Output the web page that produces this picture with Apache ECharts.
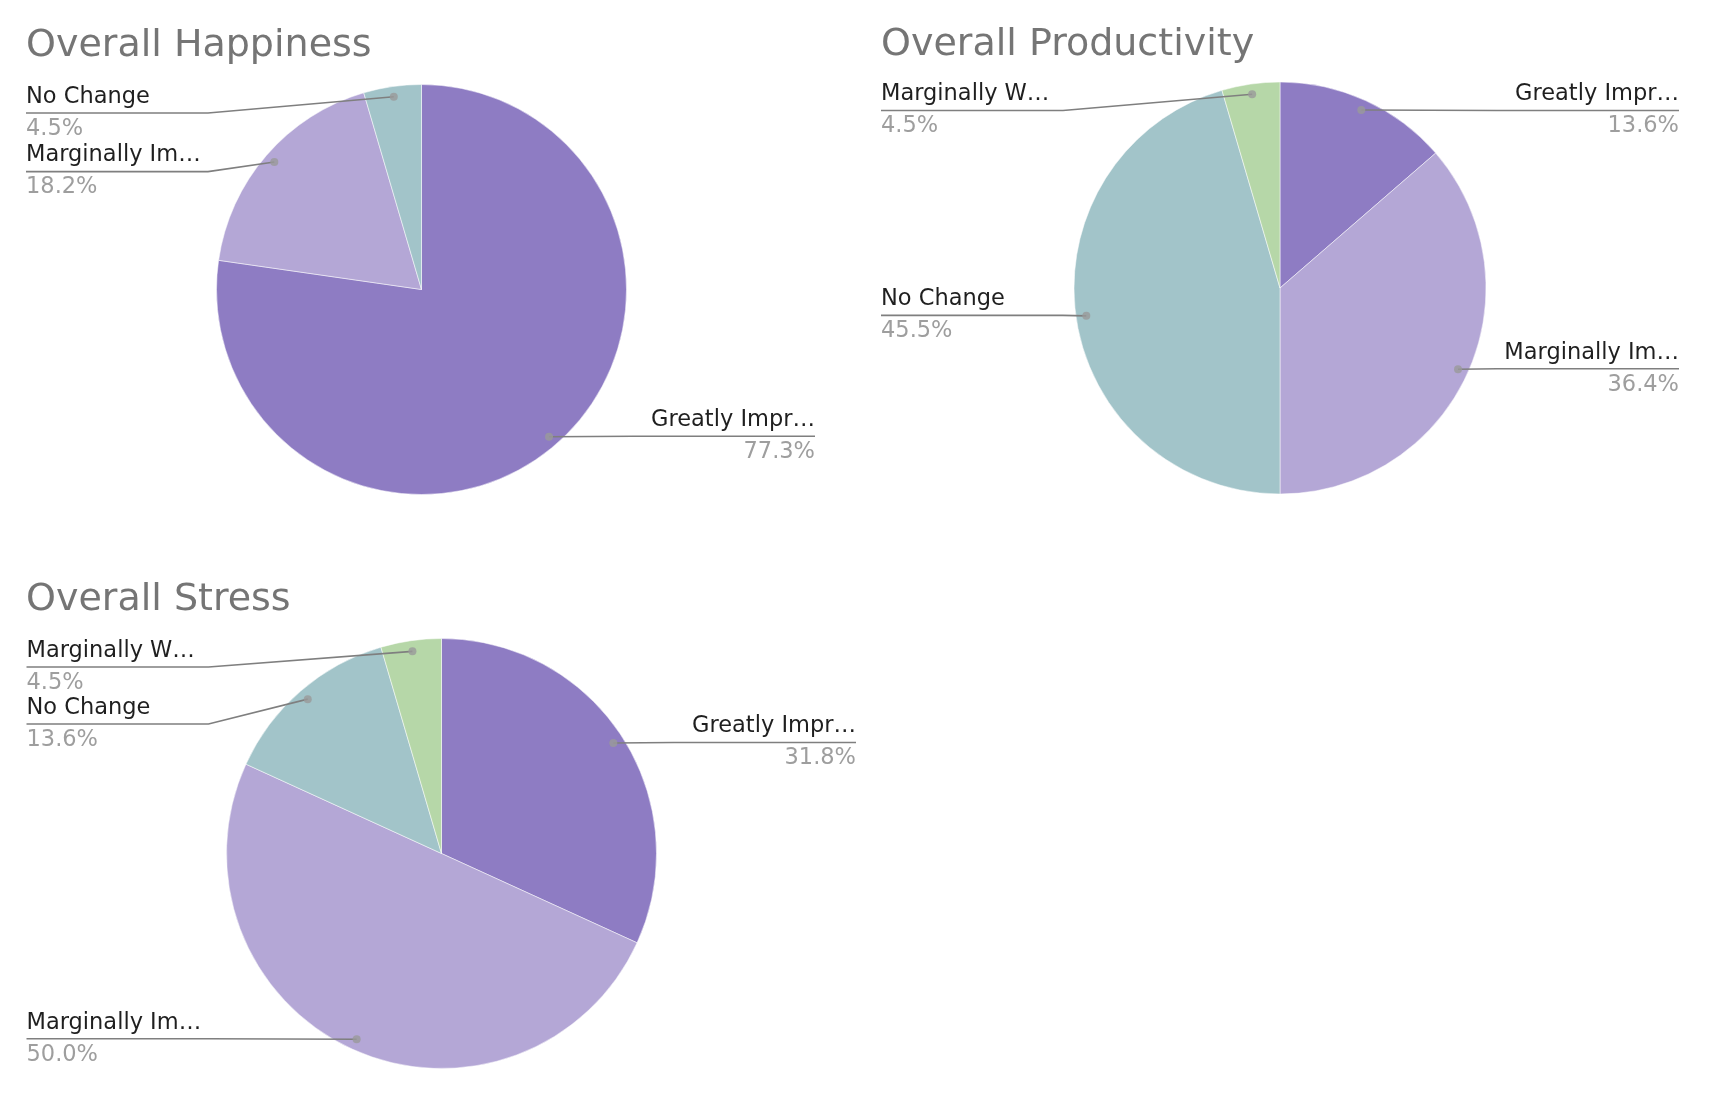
<!DOCTYPE html>
<html>
<head>
<meta charset="utf-8">
<title>Overall Happiness / Productivity / Stress</title>
<script src="https://cdn.jsdelivr.net/npm/echarts@6/dist/echarts.min.js"></script>
<style>
  html, body { margin: 0; padding: 0; background: #fff; }
  #main { width: 1716px; height: 1102px; }
</style>
</head>
<body>
<div id="main"></div>
<script>
// answers, clockwise from 12 o'clock
var categories = ['Greatly Improved', 'Marginally Improved', 'No Change', 'Marginally Worse'];
var shortNames = ['Greatly Impr…', 'Marginally Im…', 'No Change', 'Marginally W…'];
var sliceColors = ['#8e7cc3', '#b4a7d6', '#a2c4c9', '#b6d7a8'];

var titles = ['Overall Happiness', 'Overall Productivity', 'Overall Stress'];
// number of responses per answer
var happiness = [17, 4, 1, 0];
var productivity = [3, 8, 10, 1];
var stress = [7, 11, 3, 1];
var allCounts = [happiness, productivity, stress];

// where each chart sits on the page (px)
var boxes = [
    { left: 26, right: 815, cx: 421.5, cy: 289.5, r: 205, titleLeft: 26, titleTop: 27 },
    { left: 881, right: 1679, cx: 1280, cy: 288, r: 206, titleLeft: 881, titleTop: 26 },
    { left: 26.5, right: 856, cx: 441.5, cy: 853.5, r: 215, titleLeft: 26, titleTop: 581 }
];

var FONT = 'DejaVu Sans';
var DOT_R = 0.95;   // leader dots sit just inside the rim
var BEND = 182;     // leader line bends this far from the label edge

var chart = echarts.init(document.getElementById('main'));

var option = {
    backgroundColor: '#fff',
    animation: false,
    title: [],
    polar: [],
    angleAxis: [],
    radiusAxis: [],
    series: []
};

function makeLabelLayout(bx) {
    return function (params) {
        var pts = params.labelLinePoints;
        var rect = params.labelRect;
        if (!pts) return {};
        var y = rect.y + rect.height / 2;
        var onLeft = rect.x + rect.width / 2 < bx.cx;
        var p0 = pts[0];
        var dot = [bx.cx + (p0[0] - bx.cx) * DOT_R, bx.cy + (p0[1] - bx.cy) * DOT_R];
        var edge = onLeft ? bx.left : bx.right;
        var bend = onLeft ? edge + BEND : edge - BEND;
        return { labelLinePoints: [dot, [bend, y], [edge, y]] };
    };
}

for (var k = 0; k < allCounts.length; k++) {
    var b = boxes[k];
    var counts = allCounts[k];
    var total = 0;
    for (var i = 0; i < counts.length; i++) total += counts[i];

    var pieData = [];
    var labelData = [];
    var dots = [];
    var cum = 0;
    for (var i = 0; i < counts.length; i++) {
        if (counts[i] > 0) {
            pieData.push({ name: categories[i], value: counts[i], itemStyle: { color: sliceColors[i] } });
            labelData.push({
                name: categories[i],
                value: counts[i],
                shortName: shortNames[i],
                pct: (counts[i] / total * 100).toFixed(1)
            });
            dots.push([DOT_R, cum + counts[i] / 2]);
        }
        cum += counts[i];
    }

    option.title.push({
        text: titles[k],
        left: b.titleLeft,
        top: b.titleTop,
        padding: 0,
        textStyle: { fontFamily: FONT, fontSize: 38, fontWeight: 'normal', color: '#757575' }
    });

    var pieBox = {
        left: b.left,
        top: b.cy - b.r,
        width: b.right - b.left,
        height: 2 * b.r,
        center: [b.cx - b.left, b.r],
        radius: [0, b.r],
        startAngle: 90,
        clockwise: true
    };

    // the coloured slices
    option.series.push(Object.assign({
        type: 'pie',
        z: 2,
        silent: true,
        itemStyle: { borderColor: '#fff', borderWidth: 0.5 },
        label: { show: false },
        labelLine: { show: false },
        data: pieData
    }, pieBox));

    // invisible copy on top that carries labels and leader lines
    option.series.push(Object.assign({
        type: 'pie',
        z: 3,
        silent: true,
        avoidLabelOverlap: true,
        itemStyle: { color: 'rgba(0,0,0,0)', borderWidth: 0 },
        label: {
            show: true,
            position: 'outside',
            alignTo: 'edge',
            edgeDistance: 0,
            margin: -6.5,
            formatter: function (p) {
                return '{n|' + p.data.shortName + '}\n{p|' + p.data.pct + '%}';
            },
            rich: {
                n: { fontFamily: FONT, fontSize: 22.5, color: '#1f1f1f', lineHeight: 31 },
                p: { fontFamily: FONT, fontSize: 22.5, color: '#9e9e9e', lineHeight: 33 }
            }
        },
        labelLine: {
            show: true,
            length: -(1 - DOT_R) * b.r,
            length2: 0,
            lineStyle: { color: '#7f7f7f', width: 1.6 }
        },
        labelLayout: makeLabelLayout(b),
        data: labelData
    }, pieBox));

    option.polar.push({ center: [b.cx, b.cy], radius: b.r });
    option.angleAxis.push({ polarIndex: k, type: 'value', min: 0, max: total, startAngle: 90, clockwise: true, show: false });
    option.radiusAxis.push({ polarIndex: k, type: 'value', min: 0, max: 1, show: false });
    option.series.push({
        type: 'scatter',
        coordinateSystem: 'polar',
        polarIndex: k,
        symbol: 'circle',
        symbolSize: 8,
        z: 4,
        silent: true,
        itemStyle: { color: '#9a9a9a' },
        data: dots
    });
}

chart.setOption(option);
</script>
</body>
</html>
